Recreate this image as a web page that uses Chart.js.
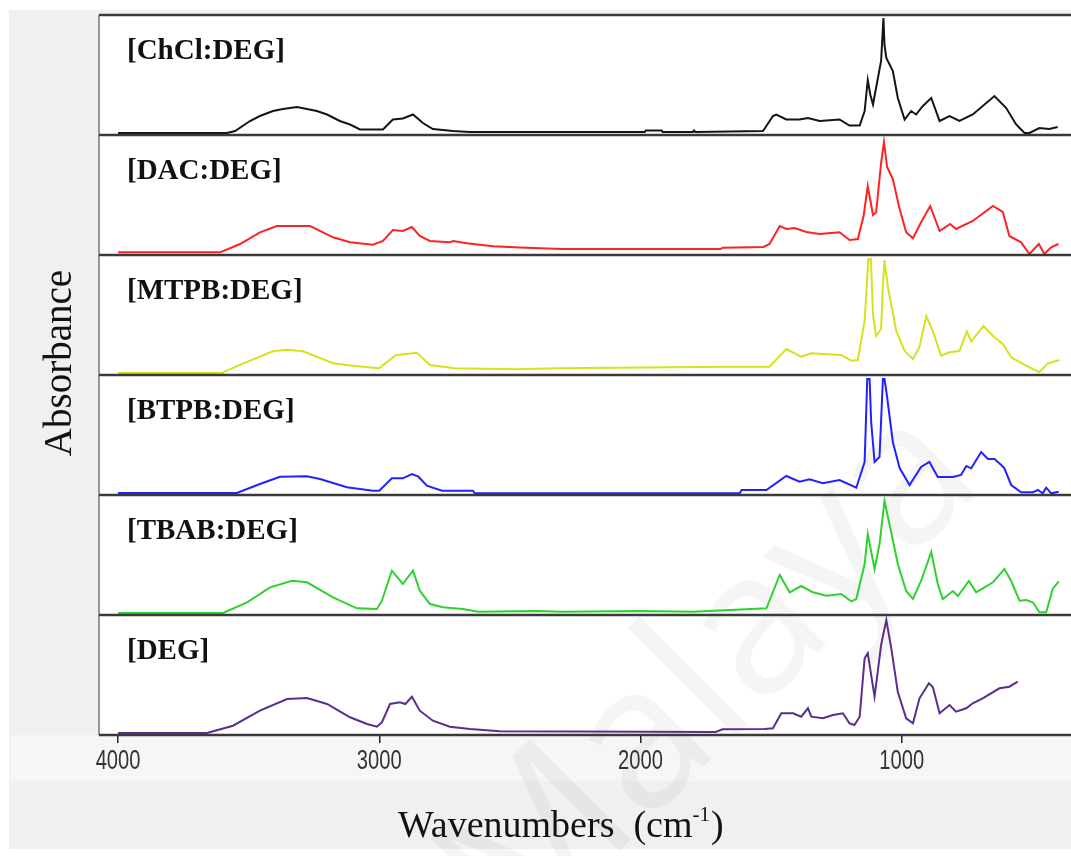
<!DOCTYPE html>
<html>
<head>
<meta charset="utf-8">
<script src="https://cdn.jsdelivr.net/npm/chart.js@4/dist/chart.umd.min.js"></script>
<style>
html,body{margin:0;padding:0;background:#ffffff;}
canvas{display:block;}
</style>
</head>
<body>
<canvas id="c" width="1071" height="856"></canvas>
<script>
// ---- data (wavenumber cm-1, absorbance a.u.) ----
const wavenumberTicks = [4000, 3000, 2000, 1000];
const seriesNames = ['[ChCl:DEG]', '[DAC:DEG]', '[MTPB:DEG]', '[BTPB:DEG]', '[TBAB:DEG]', '[DEG]'];

const chclDeg = [
[4000,0.02],[3583,0.02],[3552,0.04],[3495,0.14],[3457,0.19],[3407,0.24],[3369,0.26],[3315,0.28],[3239,0.24],[3200,0.205],[3151,0.14],[3112,0.105],[3074,0.055],[2986,0.055],[2948,0.155],[2910,0.165],[2871,0.205],[2833,0.12],[2795,0.06],[2718,0.04],[2653,0.03],
[1984,0.03],[1980,0.045],[1919,0.045],[1915,0.03],[1800,0.03],[1795,0.045],[1790,0.03],[1531,0.04],[1493,0.19],[1480,0.205],[1442,0.155],[1391,0.155],[1359,0.17],[1314,0.14],[1238,0.155],[1200,0.095],[1161,0.095],[1142,0.24],[1130,0.55],[1120,0.4],[1110,0.305],[1079,0.74],[1070,1.17],[1066,0.9],[1059,0.77],[1034,0.64],[1015,0.37],[989,0.155],[964,0.24],[945,0.205],[919,0.29],[887,0.37],[855,0.14],[817,0.19],[779,0.14],[728,0.205],[645,0.39],[600,0.27],[562,0.105],[530,0.02],[511,0.02],[473,0.07],[435,0.06],[403,0.08]
];
const dacDeg = [
[4000,0.027],[3610,0.027],[3533,0.11],[3457,0.227],[3392,0.29],[3265,0.29],[3177,0.177],[3112,0.127],[3024,0.103],[2986,0.14],[2948,0.25],[2910,0.24],[2875,0.28],[2845,0.19],[2806,0.14],[2730,0.127],[2718,0.14],[2665,0.117],[2565,0.087],[2462,0.075],[2300,0.06],[1693,0.06],[1686,0.073],[1529,0.08],[1506,0.11],[1467,0.29],[1442,0.26],[1410,0.27],[1365,0.23],[1314,0.21],[1238,0.227],[1200,0.15],[1168,0.16],[1146,0.39],[1130,0.69],[1110,0.40],[1098,0.427],[1079,0.92],[1068,1.13],[1056,0.88],[1034,0.76],[1008,0.46],[983,0.227],[957,0.167],[926,0.327],[891,0.49],[855,0.24],[815,0.31],[792,0.26],[728,0.34],[651,0.49],[613,0.43],[588,0.19],[543,0.127],[511,0.01],[475,0.11],[454,0.01],[428,0.077],[400,0.11]
];
const mtpbDeg = [
[4000,0.02],[3598,0.02],[3594,0.033],[3495,0.143],[3407,0.237],[3353,0.253],[3292,0.237],[3177,0.117],[3101,0.093],[3001,0.067],[2936,0.20],[2856,0.223],[2806,0.10],[2711,0.067],[2477,0.057],[2321,0.067],[1674,0.083],[1506,0.083],[1442,0.26],[1385,0.183],[1346,0.217],[1302,0.21],[1232,0.20],[1193,0.143],[1168,0.15],[1142,0.54],[1136,0.8],[1128,1.16],[1118,1.16],[1110,0.6],[1098,0.39],[1079,0.46],[1072,0.9],[1066,1.15],[1053,0.88],[1021,0.44],[989,0.24],[957,0.16],[932,0.28],[906,0.59],[881,0.44],[849,0.193],[817,0.227],[779,0.24],[751,0.437],[734,0.337],[687,0.49],[651,0.39],[613,0.31],[581,0.177],[524,0.093],[473,0.027],[441,0.117],[396,0.15]
];
const btpbDeg = [
[4000,0.02],[3545,0.02],[3457,0.11],[3380,0.183],[3277,0.187],[3227,0.16],[3124,0.077],[3024,0.043],[3000,0.043],[2952,0.167],[2910,0.167],[2875,0.21],[2850,0.183],[2818,0.093],[2760,0.043],[2642,0.043],[2635,0.02],[1620,0.017],[1613,0.05],[1518,0.05],[1442,0.19],[1391,0.133],[1353,0.157],[1302,0.117],[1238,0.15],[1174,0.073],[1142,0.33],[1132,1.16],[1123,1.16],[1117,0.73],[1104,0.33],[1085,0.38],[1072,1.16],[1066,1.16],[1057,1.0],[1034,0.53],[1008,0.27],[970,0.10],[926,0.28],[894,0.33],[862,0.18],[804,0.18],[773,0.20],[753,0.29],[734,0.267],[696,0.43],[670,0.36],[645,0.36],[619,0.30],[607,0.267],[581,0.10],[543,0.027],[498,0.027],[479,0.05],[460,0.017],[447,0.073],[428,0.017],[399,0.033]
];
const tbabDeg = [
[4000,0.02],[3598,0.02],[3506,0.127],[3418,0.277],[3334,0.343],[3277,0.327],[3177,0.177],[3086,0.067],[3009,0.06],[2990,0.143],[2952,0.443],[2910,0.31],[2871,0.443],[2845,0.243],[2806,0.11],[2757,0.077],[2680,0.06],[2620,0.033],[2400,0.04],[2300,0.033],[2000,0.04],[1800,0.033],[1555,0.063],[1518,0.067],[1467,0.40],[1429,0.227],[1385,0.29],[1340,0.227],[1289,0.193],[1232,0.21],[1193,0.137],[1174,0.16],[1142,0.51],[1130,0.81],[1104,0.46],[1085,0.71],[1066,1.14],[1047,0.91],[1015,0.51],[983,0.24],[957,0.16],[926,0.34],[887,0.63],[862,0.31],[843,0.16],[804,0.24],[785,0.19],[743,0.34],[715,0.227],[651,0.327],[607,0.46],[581,0.34],[549,0.143],[524,0.15],[498,0.127],[473,0.027],[447,0.027],[422,0.26],[399,0.337]
];
const degOnly = [
[4000,0.02],[3660,0.02],[3560,0.093],[3457,0.243],[3353,0.36],[3277,0.37],[3200,0.31],[3112,0.177],[3047,0.11],[3009,0.083],[2990,0.127],[2959,0.31],[2921,0.327],[2900,0.31],[2875,0.383],[2845,0.243],[2795,0.143],[2730,0.083],[2653,0.06],[2539,0.037],[1712,0.03],[1686,0.057],[1525,0.06],[1493,0.067],[1461,0.217],[1416,0.217],[1385,0.183],[1359,0.267],[1346,0.183],[1302,0.167],[1263,0.2],[1225,0.217],[1200,0.117],[1181,0.10],[1161,0.183],[1142,0.767],[1130,0.817],[1104,0.383],[1079,0.90],[1059,1.15],[1040,0.867],[1015,0.43],[983,0.167],[957,0.117],[932,0.367],[896,0.517],[881,0.48],[855,0.217],[817,0.30],[792,0.233],[753,0.267],[728,0.317],[690,0.367],[626,0.467],[588,0.483],[556,0.533]
];

// ---- styles ----
const seriesData = [chclDeg, dacDeg, mtpbDeg, btpbDeg, tbabDeg, degOnly];
const seriesColors = ['#141414', '#ff2222', '#d6e21c', '#2222ff', '#2ed22e', '#5b2d8e'];
const panelIds = seriesNames.map((_, i) => 'y' + i);
const SERIF = '"Liberation Serif", "Times New Roman", serif';

const scales = {
  x: {
    type: 'linear', position: 'bottom', reverse: true, min: 352, max: 4073,
    afterBuildTicks: s => { s.ticks = wavenumberTicks.map(v => ({ value: v })); },
    afterFit: s => { s.height = 121; },
    grid: { display: true, drawOnChartArea: false, drawTicks: true, tickLength: 8, color: '#222', lineWidth: 1.5 },
    border: { display: false },
    ticks: { display: false }
  }
};
// stacked panels: the layout places later-defined axes higher, so add them bottom-up
panelIds.slice().reverse().forEach(id => {
  scales[id] = { type: 'linear', display: false, stack: 'panels', stackWeight: 1, min: 0, max: 1.2 };
});

const decor = {
  id: 'decor',
  beforeDraw(chart) {
    const { ctx, chartArea: a, width: W, height: H } = chart;
    ctx.save();
    ctx.fillStyle = '#ffffff'; ctx.fillRect(0, 0, W, H);
    ctx.fillStyle = '#f0f0f0'; ctx.fillRect(9, 10, W - 9, 839);
    ctx.fillStyle = '#f6f6f6'; ctx.fillRect(10, a.bottom, W - 10, 46);
    ctx.fillStyle = '#ffffff'; ctx.fillRect(a.left, a.top, a.right - a.left, a.bottom - a.top);
    ctx.restore();
  },
  beforeDatasetsDraw(chart) {
    const { ctx } = chart;
    ctx.save();
    ctx.translate(712, 678);
    ctx.rotate(-45 * Math.PI / 180);
    ctx.font = '200px "Open Sans", sans-serif';
    ctx.fillStyle = 'rgba(0,0,0,0.04)';
    ctx.textAlign = 'center';
    ctx.textBaseline = 'middle';
    ctx.fillText('Malaya', 0, 0);
    ctx.restore();
  },
  afterDatasetsDraw(chart) {
    const { ctx, chartArea: a } = chart;
    ctx.save();
    // left axis line
    ctx.strokeStyle = '#777'; ctx.lineWidth = 1.5;
    ctx.beginPath(); ctx.moveTo(a.left, a.top); ctx.lineTo(a.left, a.bottom); ctx.stroke();
    // panel separators
    ctx.strokeStyle = '#3a3a3a'; ctx.lineWidth = 2.5;
    panelIds.forEach(id => {
      const s = chart.scales[id];
      ctx.beginPath(); ctx.moveTo(a.left, s.top); ctx.lineTo(a.right, s.top); ctx.stroke();
    });
    const last = chart.scales[panelIds[panelIds.length - 1]];
    ctx.beginPath(); ctx.moveTo(a.left, last.bottom); ctx.lineTo(a.right, last.bottom); ctx.stroke();
    // panel labels
    ctx.fillStyle = '#111';
    ctx.font = 'bold 29px ' + SERIF;
    ctx.textAlign = 'left'; ctx.textBaseline = 'alphabetic';
    panelIds.forEach((id, i) => {
      const s = chart.scales[id];
      ctx.fillText(seriesNames[i], 127, s.top + 44);
    });
    ctx.restore();
  },
  afterDraw(chart) {
    const { ctx, chartArea: a } = chart;
    ctx.save();
    // x tick labels (narrow, tall digits) at the scale's own tick positions
    const xs = chart.scales.x;
    ctx.fillStyle = '#333';
    ctx.font = '28px "Liberation Sans", Arial, sans-serif';
    ctx.textAlign = 'center'; ctx.textBaseline = 'alphabetic';
    xs.ticks.forEach(t => {
      const px = xs.getPixelForValue(t.value);
      ctx.save();
      ctx.translate(px, a.bottom + 34);
      ctx.scale(0.72, 1);
      ctx.fillText(String(t.value), 0, 0);
      ctx.restore();
    });
    ctx.fillStyle = '#111';
    // y title
    ctx.save();
    ctx.translate(71, 363);
    ctx.rotate(-Math.PI / 2);
    ctx.font = '39px ' + SERIF;
    ctx.textAlign = 'center'; ctx.textBaseline = 'alphabetic';
    ctx.fillText('Absorbance', 0, 0);
    ctx.restore();
    // x title with superscript
    const base = 837;
    let x = 398;
    ctx.textAlign = 'left'; ctx.textBaseline = 'alphabetic';
    ctx.font = '38px ' + SERIF;
    const p1 = 'Wavenumbers  (cm';
    ctx.fillText(p1, x, base); x += ctx.measureText(p1).width;
    ctx.font = '21px ' + SERIF;
    ctx.fillText('-1', x, base - 16); x += ctx.measureText('-1').width;
    ctx.font = '38px ' + SERIF;
    ctx.fillText(')', x + 1, base);
    ctx.restore();
  }
};

new Chart(document.getElementById('c'), {
  type: 'line',
  data: {
    datasets: seriesData.map((d, i) => ({
      label: seriesNames[i],
      data: d.map(([w, v]) => ({ x: w, y: v })),
      yAxisID: panelIds[i],
      borderColor: seriesColors[i],
      borderWidth: 2,
      pointRadius: 0,
      tension: 0,
      fill: false
    }))
  },
  options: {
    responsive: false,
    animation: false,
    events: [],
    layout: { padding: { left: 99, right: 0, top: 15, bottom: 0 } },
    scales,
    plugins: { legend: { display: false }, tooltip: { enabled: false } }
  },
  plugins: [decor]
});
</script>
</body>
</html>
